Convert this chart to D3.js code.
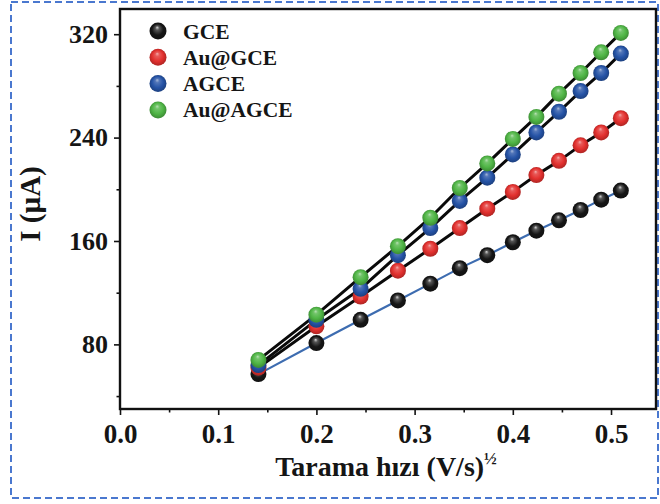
<!DOCTYPE html>
<html>
<head>
<meta charset="utf-8">
<script src="https://cdn.jsdelivr.net/npm/d3@7"></script>
<style>
  html, body { margin: 0; padding: 0; background: #fff; }
  svg { display: block; }
  text { font-family: "Liberation Serif", "Times New Roman", serif; font-weight: bold; fill: #151515; }
</style>
</head>
<body>
<svg id="chart" width="660" height="504"></svg>
<script>
// Square root of scan rate, (V/s)^1/2
const scanRateSqrt = [0.141, 0.200, 0.245, 0.283, 0.316, 0.346, 0.374, 0.400, 0.424, 0.447, 0.469, 0.490, 0.510];

// Peak current (µA) for each electrode
const gce      = [57, 81, 99, 114, 127, 139, 149, 159, 168, 176, 184, 192, 199];
const auGce    = [62, 94, 117, 137, 154, 170, 185, 198, 211, 222, 234, 244, 255];
const agce     = [64, 99, 123, 149, 170, 191, 209, 227, 244, 260, 276, 290, 305];
const auAgce   = [68, 103, 132, 156, 178, 201, 220, 239, 256, 274, 290, 306, 321];

const seriesNames = ["GCE", "Au@GCE", "AGCE", "Au@AGCE"];
const seriesValues = [gce, auGce, agce, auAgce];

const yMajorTicks = [80, 160, 240, 320];
const yMinorTicks = [40, 120, 200, 280];
const xMajorTicks = [0.0, 0.1, 0.2, 0.3, 0.4, 0.5];
const xMinorTicks = [0.05, 0.15, 0.25, 0.35, 0.45];

const xTitle = "Tarama hızı (V/s)";
const xTitleSup = "½";
const yTitle = "I (µA)";

// Appearance
const ballColors = ["#161616", "#e2302e", "#2553a6", "#4fb545"];
const lineColors = ["#3d6cb0", "#0a0a0a", "#0a0a0a", "#0a0a0a"];
const lineWidths = [2.2, 3, 3, 3];

const svg = d3.select("#chart");
const W = 660, H = 504;
const plot = { left: 120, right: 656, top: 9, bottom: 409 };

svg.append("rect").attr("width", W).attr("height", H).attr("fill", "#ffffff");

// Dashed outer border
svg.append("rect")
  .attr("x", 11).attr("y", 2).attr("width", 647).attr("height", 496)
  .attr("fill", "none").attr("stroke", "#4a78cf").attr("stroke-width", 2)
  .attr("stroke-dasharray", "7,4");

const x = d3.scaleLinear().domain([0, 0.5458]).range([plot.left, plot.right]);
const y = d3.scaleLinear().domain([30, 339.5]).range([plot.bottom, plot.top]);

// Sphere-like gradients for the markers
const defs = svg.append("defs");
ballColors.forEach((c, i) => {
  const base = d3.color(c);
  const g = defs.append("radialGradient")
    .attr("id", "ball" + i)
    .attr("cx", "50%").attr("cy", "50%").attr("r", "55%")
    .attr("fx", "45%").attr("fy", "28%");
  const hi = i === 0 ? "#d8d8d8" : d3.interpolateRgb(c, "#ffffff")(0.6);
  g.append("stop").attr("offset", "0%").attr("stop-color", hi);
  g.append("stop").attr("offset", "22%").attr("stop-color", i === 0 ? "#555" : d3.interpolateRgb(c, "#ffffff")(0.2));
  g.append("stop").attr("offset", "60%").attr("stop-color", base.formatHex());
  g.append("stop").attr("offset", "100%").attr("stop-color", base.darker(0.9).formatHex());
});

// Y axis
const yAxis = svg.append("g").attr("transform", `translate(${plot.left},0)`)
  .call(d3.axisLeft(y).tickValues(yMajorTicks).tickSize(6).tickPadding(6).tickFormat(d3.format("d")));
yAxis.select(".domain").remove();
yAxis.selectAll("line").attr("stroke", "#111").attr("stroke-width", 1.6);
yAxis.selectAll("text").attr("font-size", 26).style("font-family", "'Liberation Serif', serif").style("font-weight", "bold").attr("fill", "#151515");

const yMinor = svg.append("g").attr("transform", `translate(${plot.left},0)`)
  .call(d3.axisLeft(y).tickValues(yMinorTicks).tickSize(3.5).tickFormat(""));
yMinor.select(".domain").remove();
yMinor.selectAll("line").attr("stroke", "#111").attr("stroke-width", 1.6);

// X axis
const xAxis = svg.append("g").attr("transform", `translate(0,${plot.bottom})`)
  .call(d3.axisBottom(x).tickValues(xMajorTicks).tickSize(6).tickPadding(9).tickFormat(d3.format(".1f")));
xAxis.select(".domain").remove();
xAxis.selectAll("line").attr("stroke", "#111").attr("stroke-width", 1.6);
xAxis.selectAll("text").attr("font-size", 27).style("font-family", "'Liberation Serif', serif").style("font-weight", "bold").attr("fill", "#151515");

const xMinor = svg.append("g").attr("transform", `translate(0,${plot.bottom})`)
  .call(d3.axisBottom(x).tickValues(xMinorTicks).tickSize(3.5).tickFormat(""));
xMinor.select(".domain").remove();
xMinor.selectAll("line").attr("stroke", "#111").attr("stroke-width", 1.6);

// Plot frame
svg.append("rect")
  .attr("x", plot.left).attr("y", plot.top)
  .attr("width", plot.right - plot.left).attr("height", plot.bottom - plot.top)
  .attr("fill", "none").attr("stroke", "#111").attr("stroke-width", 2.4);

// Connecting lines
const line = d3.line().x((d, i) => x(scanRateSqrt[i])).y(d => y(d));
seriesValues.forEach((vals, s) => {
  svg.append("path").datum(vals)
    .attr("d", line)
    .attr("fill", "none")
    .attr("stroke", lineColors[s])
    .attr("stroke-width", lineWidths[s])
    .attr("stroke-linejoin", "round");
});

// Markers
seriesValues.forEach((vals, s) => {
  svg.append("g").selectAll("circle").data(vals).join("circle")
    .attr("cx", (d, i) => x(scanRateSqrt[i]))
    .attr("cy", d => y(d))
    .attr("r", 8)
    .attr("fill", `url(#ball${s})`);
});

// Legend
const legend = svg.append("g");
seriesNames.forEach((name, i) => {
  const ly = 31 + i * 26.3;
  legend.append("circle").attr("cx", 158).attr("cy", ly).attr("r", 8.5).attr("fill", `url(#ball${i})`);
  legend.append("text").attr("x", 183).attr("y", ly + 7.5).attr("font-size", 21.5).text(name);
});

// Axis titles
const xt = svg.append("text")
  .attr("x", 386).attr("y", 476)
  .attr("text-anchor", "middle")
  .attr("font-size", 28);
xt.append("tspan").text(xTitle);
xt.append("tspan").attr("font-size", 17).attr("dy", -12).text(xTitleSup);

svg.append("text")
  .attr("transform", "translate(40,204) rotate(-90)")
  .attr("text-anchor", "middle")
  .attr("font-size", 29)
  .text(yTitle);
</script>
</body>
</html>
